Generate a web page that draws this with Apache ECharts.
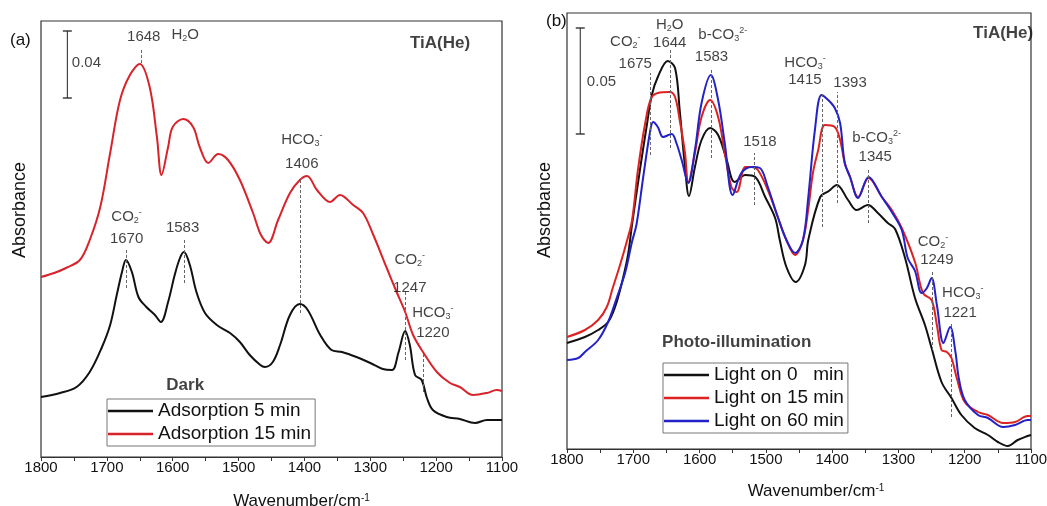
<!DOCTYPE html>
<html>
<head>
<meta charset="utf-8">
<title>TiA(He) IR spectra</title>
<script src="https://cdn.jsdelivr.net/npm/echarts@6/dist/echarts.min.js"></script>
<style>
  html, body { margin: 0; padding: 0; background: #fff; }
  #chart { width: 1047px; height: 506px; }
</style>
</head>
<body>
<div id="chart"></div>
<script>
'use strict';
{
    // values, y in arbitrary absorbance units (0..436)
    let adsorb5 = [[1800,60],[1771,64],[1746,70],[1726,85],[1708,109],[1695,132],[1685,162],[1677,185],[1671,197],[1662,185],[1652,160],[1640,150],[1627,142],[1618,135],[1607,155],[1597,182],[1589,199],[1583,205],[1574,192],[1564,165],[1551,144],[1533,132],[1513,124],[1498,115],[1483,102],[1467,92],[1460,90],[1448,95],[1437,112],[1422,142],[1407,153],[1395,147],[1376,122],[1359,107],[1343,105],[1321,100],[1300,94],[1281,88],[1267,87],[1257,105],[1247,126],[1240,112],[1232,82],[1222,77],[1214,59],[1205,47],[1184,40],[1164,38],[1141,34],[1123,37],[1100,37]];
    let adsorb15 = [[1800,180],[1780,184],[1762,189],[1741,197],[1726,217],[1710,250],[1695,304],[1680,357],[1665,382],[1650,393],[1635,370],[1624,320],[1617,282],[1607,310],[1600,330],[1584,338],[1569,330],[1559,310],[1546,294],[1531,303],[1516,297],[1498,277],[1478,244],[1466,222],[1455,214],[1440,237],[1422,264],[1407,277],[1396,281],[1381,267],[1361,255],[1346,262],[1326,252],[1311,244],[1296,223],[1275,189],[1260,165],[1247,145],[1235,122],[1220,105],[1199,85],[1179,74],[1164,70],[1144,62],[1123,64],[1108,67],[1100,66]];

    let light0 = [[1800,106],[1773,112],[1753,119],[1738,127],[1728,141],[1718,164],[1708,194],[1702,224],[1690,279],[1680,322],[1672,354],[1663,372],[1648,388],[1637,381],[1630,339],[1622,282],[1616,253],[1607,282],[1597,309],[1584,321],[1572,314],[1559,289],[1547,267],[1531,274],[1516,272],[1501,252],[1486,231],[1479,209],[1469,182],[1455,167],[1441,184],[1436,209],[1418,252],[1405,258],[1393,264],[1376,249],[1363,239],[1346,244],[1331,236],[1316,226],[1305,220],[1290,191],[1275,151],[1260,124],[1250,101],[1235,67],[1220,51],[1205,34],[1185,21],[1165,14],[1150,7],[1135,3],[1120,9],[1105,13],[1100,14]];
    let light15 = [[1800,112],[1773,119],[1753,129],[1740,142],[1731,161],[1720,184],[1710,207],[1702,228],[1693,279],[1682,326],[1673,351],[1663,356],[1645,357],[1637,352],[1630,329],[1622,296],[1617,267],[1607,296],[1597,332],[1584,349],[1572,332],[1562,296],[1552,262],[1544,257],[1531,282],[1521,282],[1512,279],[1497,259],[1482,232],[1469,209],[1456,194],[1444,209],[1436,240],[1429,276],[1421,299],[1411,324],[1396,322],[1388,309],[1381,286],[1373,272],[1361,252],[1345,271],[1325,252],[1310,239],[1295,221],[1275,187],[1263,156],[1250,149],[1242,124],[1235,99],[1227,97],[1220,91],[1212,71],[1200,47],[1180,37],[1165,34],[1142,26],[1124,27],[1105,33],[1100,33]];
    let light60 = [[1800,89],[1783,91],[1773,97],[1753,109],[1738,127],[1725,151],[1712,177],[1702,207],[1695,225],[1685,272],[1675,316],[1670,327],[1663,322],[1655,312],[1642,315],[1635,306],[1627,289],[1617,266],[1607,299],[1597,346],[1583,374],[1572,349],[1562,306],[1550,254],[1537,276],[1521,282],[1509,281],[1497,262],[1482,232],[1469,209],[1456,196],[1444,209],[1436,252],[1426,319],[1416,354],[1406,349],[1396,341],[1388,326],[1381,286],[1373,272],[1361,251],[1345,272],[1325,252],[1310,237],[1295,219],[1286,191],[1275,178],[1265,156],[1257,161],[1250,171],[1242,144],[1232,106],[1222,122],[1214,97],[1209,71],[1200,49],[1180,34],[1165,31],[1142,22],[1124,24],[1105,29],[1100,29]];

    // peak markers: [wavenumber, from, to]
    let peaksA = [[1648,394,409],[1670,169,209],[1583,174,219],[1406,144,277],[1247,97,167],[1220,65,105]];
    let peaksB = [[1675,294,376],[1644,301,399],[1583,291,381],[1518,244,296],[1415,222,357],[1393,246,357],[1345,226,281],[1249,99,177],[1221,32,127]];

    // scale bars: [wavenumber, from, to]
    let barA = [1760, 359, 426];
    let barB = [1780, 315, 421];

    // annotations: [wavenumber, y, text]
    let notesA = [
        [1644,420,'1648'],[1581,422,'H{s|2}O'],
        [1670,240,'CO{s|2}{p|-}'],[1670,218,'1670'],
        [1585,229,'1583'],
        [1404,317,'HCO{s|3}{p|-}'],[1404,293,'1406'],
        [1240,197,'CO{s|2}{p|-}'],[1240,169,'1247'],
        [1205,144,'HCO{s|3}{p|-}'],[1205,124,'1220'],
        [1731,394,'0.04'],
        [1194,414,'{b|TiA(He)}'],
        [1581,72,'{b|Dark}']
    ];
    let notesB = [
        [1712,407,'CO{s|2}{p|-}'],[1697,385,'1675'],
        [1645,424,'H{s|2}O'],[1645,406,'1644'],
        [1565,414,'b-CO{s|3}{p|2-}'],[1582,392,'1583'],
        [1509,307,'1518'],
        [1441,386,'HCO{s|3}{p|-}'],[1441,369,'1415'],[1373,366,'1393'],
        [1333,311,'b-CO{s|3}{p|2-}'],[1335,292,'1345'],
        [1248,207,'CO{s|2}{p|-}'],[1242,189,'1249'],
        [1203,156,'HCO{s|3}{p|-}'],[1207,136,'1221'],
        [1748,367,'0.05'],
        [1142,416,'{b|TiA(He)}'],
        [1544,107,'{b|Photo-illumination}']
    ];

    let ticks = [1800, 1700, 1600, 1500, 1400, 1300, 1200, 1100];

    const FONT = "'Liberation Sans', Arial, sans-serif";
    const INK = '#111';
    let rich = {
        s: {fontSize: 9, lineHeight: 9, verticalAlign: 'bottom', fontFamily: FONT, color: INK},
        p: {fontSize: 9, lineHeight: 9, verticalAlign: 'top', fontFamily: FONT, color: INK},
        b: {fontSize: 17, lineHeight: 20, fontWeight: 'bold', fontFamily: FONT, color: INK}
    };

    let dom = document.getElementById('chart');
    let myChart = echarts.init(dom, null, {renderer: 'canvas'});

    function xAxisOf(gi, shift, gap) {
        return {
            type: 'value', gridIndex: gi, inverse: true,
            min: ticks[ticks.length - 1], max: ticks[0], interval: 100,
            axisLine: {show: true, lineStyle: {color: '#333', width: 1.2}},
            axisTick: {show: true, inside: false, length: 4, lineStyle: {color: '#333'}},
            minorTick: {show: true, splitNumber: 2, length: 4, lineStyle: {color: '#333'}},
            axisLabel: {fontSize: 15, color: INK, fontFamily: FONT, margin: 3, formatter: v => String(v)},
            splitLine: {show: false},
            name: 'Wavenumber/cm{p|-1}', nameLocation: 'middle', nameGap: gap,
            nameTextStyle: {
                fontSize: 17, color: INK, fontFamily: FONT, padding: [0, 0, 0, shift],
                rich: {p: {fontSize: 10, lineHeight: 10, verticalAlign: 'top', fontFamily: FONT, color: INK}}
            }
        };
    }

    function yAxisOf(gi, gap, shift) {
        return {
            type: 'value', gridIndex: gi, min: 0, max: 436,
            axisLine: {show: false}, axisTick: {show: false}, axisLabel: {show: false},
            splitLine: {show: false},
            name: 'Absorbance', nameLocation: 'middle', nameGap: gap,
            nameTextStyle: {fontSize: 18, color: INK, fontFamily: FONT, padding: [0, 0, 0, shift]}
        };
    }

    function curve(name, data, color, gi, peaks) {
        let s = {
            name: name, type: 'line', xAxisIndex: gi, yAxisIndex: gi,
            data: data, symbol: 'none', smooth: 0.35,
            lineStyle: {color: color, width: 2},
            itemStyle: {color: color},
            z: 3
        };
        if (peaks) {
            s.markLine = {
                silent: true, symbol: ['none', 'none'], animation: false,
                label: {show: false},
                lineStyle: {type: [3, 2], color: '#666', width: 1},
                data: peaks.map(p => [{coord: [p[0], p[1]]}, {coord: [p[0], p[2]]}])
            };
        }
        return s;
    }

    function scaleBar(bar, gi) {
        return {
            type: 'line', xAxisIndex: gi, yAxisIndex: gi,
            data: [[bar[0], bar[1]], [bar[0], bar[2]]],
            symbol: 'rect', symbolSize: [9, 1.3], showSymbol: true,
            lineStyle: {color: '#222', width: 1}, itemStyle: {color: '#222'},
            silent: true
        };
    }

    function notes(list, gi) {
        return {
            type: 'scatter', xAxisIndex: gi, yAxisIndex: gi,
            data: list, symbolSize: 0, itemStyle: {color: INK},
            silent: true, z: 5,
            label: {
                show: true, position: [0, 0], align: 'center', verticalAlign: 'middle',
                formatter: p => p.data[2],
                fontSize: 15, lineHeight: 17, color: INK, fontFamily: FONT,
                textBorderWidth: 0,
                rich: rich
            }
        };
    }

    function legendOf(names, left, top) {
        return {
            orient: 'vertical', left: left, top: top, data: names,
            selectedMode: false, icon: 'rect',
            borderColor: '#777', borderWidth: 1, padding: [2, 4, 2, 1],
            itemGap: 3, itemWidth: 45, itemHeight: 2.5,
            textStyle: {fontSize: 19, lineHeight: 20, color: INK, fontFamily: FONT}
        };
    }

    let option = {
        animation: false,
        backgroundColor: '#fff',
        textStyle: {fontFamily: FONT},
        title: [
            {text: '(a)', left: 5, top: 27, textStyle: {fontSize: 17, fontWeight: 'normal', color: INK, fontFamily: FONT}},
            {text: '(b)', left: 541, top: 8, textStyle: {fontSize: 17, fontWeight: 'normal', color: INK, fontFamily: FONT}}
        ],
        grid: [
            {left: 41, top: 21, width: 461, height: 436, show: true, borderColor: '#333', borderWidth: 1.2, containLabel: false, outerBoundsMode: 'none'},
            {left: 567, top: 13, width: 464, height: 436, show: true, borderColor: '#333', borderWidth: 1.2, containLabel: false, outerBoundsMode: 'none'}
        ],
        xAxis: [xAxisOf(0, 60, 36), xAxisOf(1, 34, 34)],
        yAxis: [yAxisOf(0, 12, 58), yAxisOf(1, 13, 42)],
        legend: [
            legendOf(['Adsorption 5 min', 'Adsorption 15 min'], 107, 399),
            legendOf(['Light on 0   min', 'Light on 15 min', 'Light on 60 min'], 663, 363)
        ],
        series: [
            curve('Adsorption 5 min', adsorb5, '#111111', 0, peaksA),
            curve('Adsorption 15 min', adsorb15, '#d8232a', 0, null),
            scaleBar(barA, 0),
            notes(notesA, 0),
            curve('Light on 0   min', light0, '#111111', 1, peaksB),
            curve('Light on 15 min', light15, '#dd2222', 1, null),
            curve('Light on 60 min', light60, '#2222c8', 1, null),
            scaleBar(barB, 1),
            notes(notesB, 1)
        ]
    };

    if (option && typeof option === 'object') {
        myChart.setOption(option, true);
    }
}
</script>
</body>
</html>
